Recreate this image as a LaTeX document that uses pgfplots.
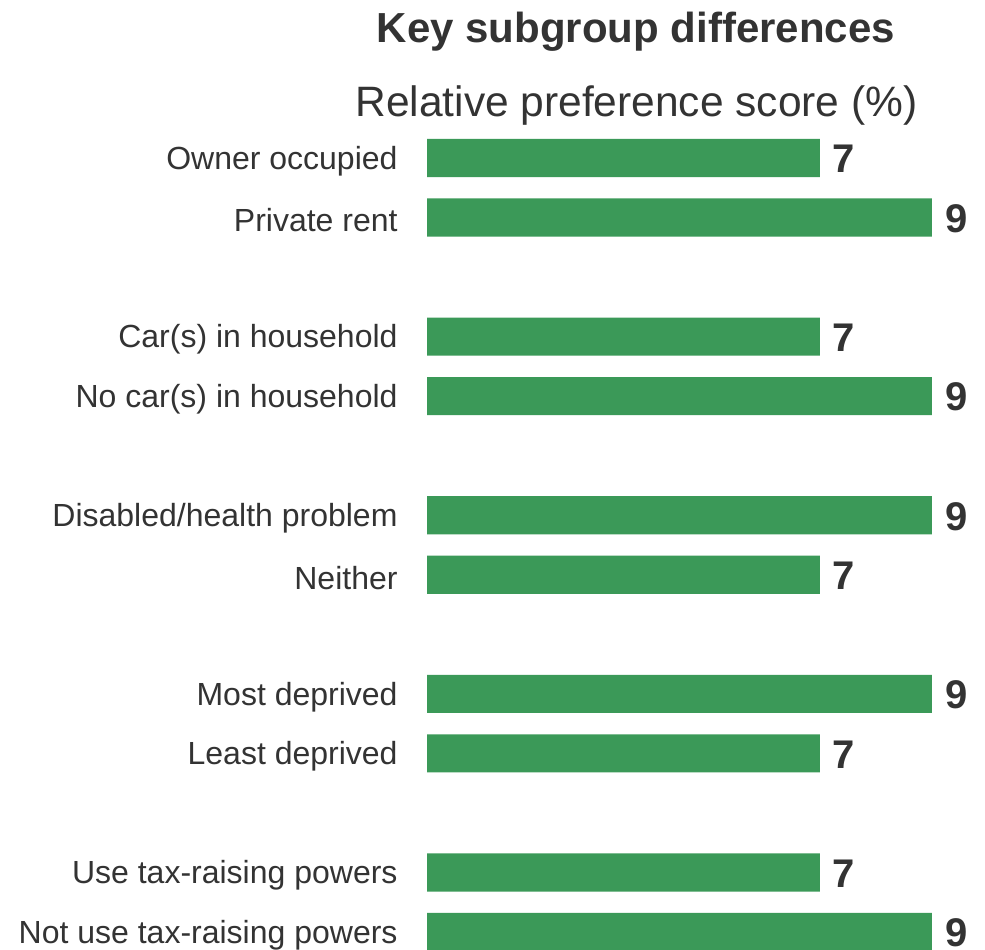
\documentclass[border=0pt]{standalone}
\usepackage{fontspec}
\setmainfont{Liberation Sans}
\usepackage{pgfplots}
\pgfplotsset{compat=1.18}
\definecolor{bargreen}{HTML}{3B9958}
\definecolor{txt}{HTML}{333333}

\begin{document}
\begin{tikzpicture}
\path[use as bounding box] (0bp,0bp) rectangle (985bp,950bp);
\node[anchor=base, font=\bfseries\fontsize{42bp}{50bp}\selectfont, text=txt, inner sep=0pt]
  at (636bp,907bp) {Key subgroup differences};
\node[anchor=base, font=\fontsize{42.5bp}{50bp}\selectfont, text=txt, inner sep=0pt]
  at (636.5bp,833bp) {Relative preference score (\%)};
\begin{axis}[
  at={(427bp,821.8bp)}, anchor=north west,
  scale only axis, width=505bp, height=833.6bp,
  xmin=0, xmax=9, ymin=-0.5, ymax=13.5, y dir=reverse,
  xbar, bar width=0.64,
  axis line style={draw=none}, tick style={draw=none},
  xtick=\empty,
  ytick={0,1,3,4,6,7,9,10,12,13},
  yticklabels={Owner occupied, Private rent, Car(s) in household, No car(s) in household,
    Disabled/health problem, Neither, Most deprived, Least deprived,
    Use tax-raising powers, Not use tax-raising powers},
  yticklabel style={font=\fontsize{32bp}{38bp}\selectfont, text=txt, inner sep=0pt,
    xshift=-25bp, yshift=-3bp},
  nodes near coords,
  nodes near coords style={font=\bfseries\fontsize{40bp}{48bp}\selectfont, text=txt,
    anchor=west, inner sep=0pt, xshift=13bp, yshift=-1bp},
  /pgf/number format/assume math mode=true,
  clip=false,
]
\addplot[fill=bargreen, draw=none] coordinates {
  (7,0) (9,1) (7,3) (9,4) (9,6) (7,7) (9,9) (7,10) (7,12) (9,13)};
\end{axis}
\end{tikzpicture}
\end{document}
